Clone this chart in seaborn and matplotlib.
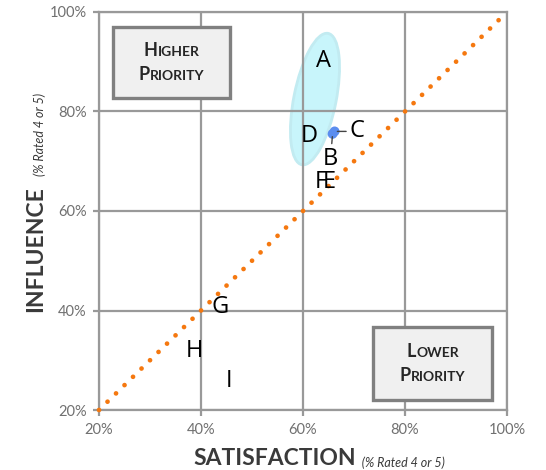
import numpy as np
import pandas as pd
import seaborn as sns
import matplotlib.pyplot as plt
from matplotlib.patches import Ellipse, Rectangle
from matplotlib.offsetbox import TextArea, HPacker, VPacker, AnnotationBbox
from matplotlib.ticker import FuncFormatter

# data (% rated 4 or 5)
labels = ['A', 'D', 'F', 'E', 'G', 'H', 'I']
satisfaction = [64.1, 61.2, 63.4, 65.2, 43.8, 38.7, 45.5]
influence = [90.1, 75.0, 65.8, 65.8, 40.8, 31.9, 25.9]

# B and C sit on top of each other -> dots with callout labels
dot_labels = ['B', 'C']
dot_sat = [65.8, 66.2]
dot_inf = [75.5, 76.0]

diag_x = [20, 100]
diag_y = [20, 100]
ticks = [20, 40, 60, 80, 100]

sns.set_theme(style='white')
plt.rcParams['font.family'] = ['Lato', 'DejaVu Sans']

grey = '#999999'
fig = plt.figure(figsize=(5.46, 4.70), dpi=100)
ax = fig.add_axes([99 / 546, 1 - 410 / 470, 408 / 546, 398 / 470])

# cluster highlight
ax.add_patch(Ellipse((62.35, 82.5), 8.3, 26.9, angle=-11, facecolor='#c8f5fb',
                     edgecolor='#c2ebf1', lw=2, zorder=0.5))

# parity line
sns.lineplot(x=diag_x, y=diag_y, ax=ax, color='#f5780f', lw=3.4,
             linestyle=(0, (0.01, 2.505)), dash_capstyle='round', zorder=3,
             clip_on=False)

sns.scatterplot(x=dot_sat, y=dot_inf, ax=ax, color='#5b8def', s=50,
                edgecolor='none', zorder=3)

for lab, x, y in zip(labels, satisfaction, influence):
    ax.text(x, y, lab, ha='center', va='center', fontsize=17, color='black',
            family=['Open Sans', 'DejaVu Sans'], zorder=4)

offsets = {'B': (-1.5, -18), 'C': (16, 0)}
for lab, x, y in zip(dot_labels, dot_sat, dot_inf):
    ax.annotate(lab, xy=(x, y), xytext=offsets[lab], textcoords='offset points',
                ha='center', va='center', fontsize=17, color='black', zorder=4,
                family=['Open Sans', 'DejaVu Sans'],
                arrowprops=dict(arrowstyle='-', color='#444444', lw=1,
                                shrinkA=0, shrinkB=2))

ax.set_xlim(20, 100)
ax.set_ylim(20, 100)
ax.set_xticks(ticks)
ax.set_yticks(ticks)
pct = FuncFormatter(lambda v, p: f'{v:.0f}%')
ax.xaxis.set_major_formatter(pct)
ax.yaxis.set_major_formatter(pct)
ax.grid(True, color=grey, lw=1.6)
ax.set_axisbelow(True)
for s in ax.spines.values():
    s.set_color(grey)
    s.set_linewidth(1.6)
ax.tick_params(axis='both', which='both', direction='out', length=4, width=1.6,
               color=grey, labelcolor='#707070', labelsize=10.5, pad=5)
ax.xaxis.set_ticks_position('bottom')
ax.yaxis.set_ticks_position('left')


def small_caps(word, big=13, small=10):
    first = TextArea(word[0], textprops=dict(size=big, weight='bold', color='#262626'))
    rest = TextArea(word[1:], textprops=dict(size=small, weight='bold', color='#262626'))
    return HPacker(children=[first, rest], align='baseline', pad=0, sep=0.5)


def priority_box(x0, y0, x1, y1, w1, w2):
    ax.add_patch(Rectangle((x0, y0), x1 - x0, y1 - y0, facecolor='#f0f0f0',
                           edgecolor='#808080', lw=2.4, zorder=5))
    pack = VPacker(children=[small_caps(w1), small_caps(w2)], align='center',
                   pad=0, sep=5)
    ab = AnnotationBbox(pack, ((x0 + x1) / 2, (y0 + y1) / 2), frameon=False,
                        box_alignment=(0.5, 0.5), zorder=6)
    ax.add_artist(ab)


priority_box(22.7, 82.7, 45.7, 97.0, 'HIGHER', 'PRIORITY')
priority_box(73.7, 22.0, 97.1, 36.7, 'LOWER', 'PRIORITY')

# axis titles with small italic note
xt = fig.text(193 / 546, 1 - 465 / 470, 'SATISFACTION', ha='left', va='baseline',
              fontsize=16.5, weight='bold', color='#3a3a3a')
ax.annotate('  (% Rated 4 or 5)', xy=(1, 0), xycoords=xt, ha='left', va='bottom',
            fontsize=9, style='italic', color='#3a3a3a', annotation_clip=False)

yt = fig.text(35.5 / 546, 1 - 312 / 470, 'INFLUENCE', ha='center', va='bottom',
              rotation=90, fontsize=16.5, weight='bold', color='#3a3a3a')
ax.annotate('(% Rated 4 or 5)', xy=(1, 1), xycoords=yt, xytext=(0, 7),
            textcoords='offset points', ha='right', va='bottom', rotation=90,
            fontsize=9, style='italic', color='#3a3a3a', annotation_clip=False)

fig.savefig('out.png', dpi=100)
